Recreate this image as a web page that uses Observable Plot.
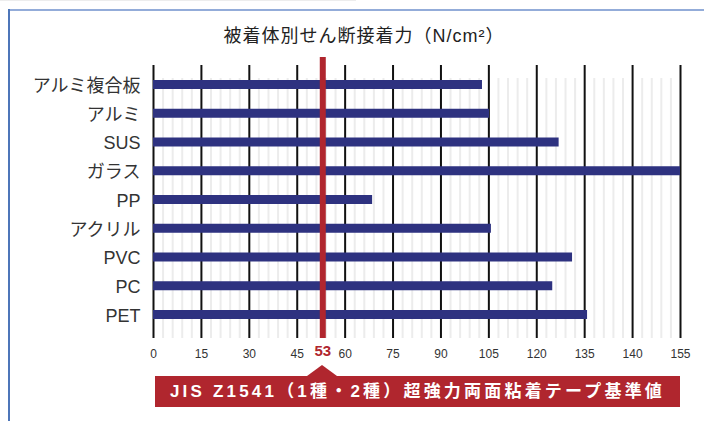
<!DOCTYPE html>
<html><head><meta charset="utf-8">
<script src="https://cdn.jsdelivr.net/npm/d3@7"></script>
<script src="https://cdn.jsdelivr.net/npm/@observablehq/plot@0.6"></script>
<style>
html,body{margin:0;padding:0;background:#fff;font-family:"Liberation Sans","Noto Sans CJK JP",sans-serif;}
#wrap{position:relative;width:704px;height:421px;overflow:hidden;}
#topline{position:absolute;left:0;top:0;width:356px;height:1px;background:#ededed;z-index:3;}
#lineTop{position:absolute;left:9px;top:9px;width:695px;height:2px;background:#93acd9;z-index:3;}
#lineLeft{position:absolute;left:8px;top:9px;width:2px;height:412px;background:#4d76b9;z-index:3;}
#title{position:absolute;left:0;width:704px;top:24px;text-align:center;font-size:18px;line-height:24px;color:#222;padding-left:24px;box-sizing:border-box;letter-spacing:1px;z-index:2;}
#chart{position:absolute;left:0;top:0;z-index:1;}
#tri{position:absolute;left:307px;top:365px;width:0;height:0;border-left:15px solid transparent;border-right:15px solid transparent;border-bottom:11px solid #b0262e;z-index:2;}
#banner{position:absolute;left:155px;top:376px;width:525px;height:31px;background:#b0262e;color:#fff;font-weight:bold;font-size:17px;line-height:31px;text-align:center;letter-spacing:3.2px;white-space:nowrap;z-index:2;}
</style></head>
<body>
<div id="wrap">
<div id="chart"></div>
<div id="topline"></div>
<div id="lineTop"></div>
<div id="lineLeft"></div>
<div id="title">被着体別せん断接着力（N/cm²）</div>
<div id="tri"></div>
<div id="banner">JIS Z1541（1種・2種）超強力両面粘着テープ基準値</div>
</div>
<script>
const categories = ["アルミ複合板","アルミ","SUS","ガラス","PP","アクリル","PVC","PC","PET"];
const values = [103, 105.2, 127, 165, 68.6, 105.8, 131.2, 125, 135.9];
const tickValues = [0,15,30,45,60,75,90,105,120,135,150,165];
const tickLabels = ["0","15","30","45","60","75","90","105","120","135","140","155"];
const minorValues = [3,6,9,12,18,21,24,27,33,36,39,42,48,51,54,57,63,66,69,72,78,81,84,87,93,96,99,102,108,111,114,117,123,126,129,132,138,141,144,147,153,156,159,162];
const standard = 53;

const data = categories.map((c, i) => ({category: c, value: values[i]}));
const labelOf = new Map(tickValues.map((v, i) => [v, tickLabels[i]]));
const font = '"Liberation Sans","Noto Sans CJK JP",sans-serif';

const chart = Plot.plot({
  width: 704,
  height: 370,
  marginLeft: 153,
  marginRight: 24,
  marginTop: 65,
  marginBottom: 32,
  style: {fontFamily: font, background: "transparent", overflow: "visible"},
  x: {domain: [0, 165], axis: null, label: null},
  y: {type: "band", domain: categories, range: [80, 319], paddingInner: 0.687, paddingOuter: 0, round: false, axis: null, label: null},
  marks: [
    Plot.ruleX(minorValues, {stroke: "#ececec", strokeWidth: 2, insetTop: 13}),
    Plot.ruleX(tickValues, {stroke: "#111", strokeWidth: 2}),
    Plot.barX(data, {x: "value", y: "category", fill: "#2e3280"}),
    Plot.ruleX([standard], {stroke: "#b0262e", strokeWidth: 6, insetTop: -8}),
    Plot.axisY({label: null, tickSize: 0, tickPadding: 13, dy: 1, fontSize: 18, fill: "#333", style: {letterSpacing: "2.5px"}}),
    Plot.axisX({label: null, ticks: tickValues, tickFormat: d => labelOf.get(d), tickSize: 0, tickPadding: 11, fontSize: 12, fill: "#333", style: {letterSpacing: "0.8px"}}),
    Plot.text([standard], {x: d => d, frameAnchor: "bottom", dy: 17, text: d => String(d), fill: "#b0262e", fontWeight: "bold", fontSize: 15, style: {letterSpacing: "1px"}})
  ]
});
document.getElementById("chart").appendChild(chart);
</script>
</body></html>
